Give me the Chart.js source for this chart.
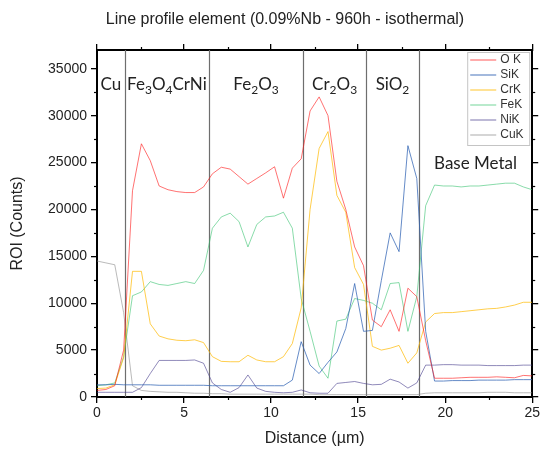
<!DOCTYPE html>
<html>
<head>
<meta charset="utf-8">
<script src="https://cdn.jsdelivr.net/npm/chart.js@4.4.1/dist/chart.umd.min.js"></script>
<style>
  html, body { margin: 0; padding: 0; background: #fff; }
  #wrap { width: 542px; height: 454px; }
</style>
</head>
<body>
<div id="wrap"><canvas id="profileChart" width="542" height="454"></canvas></div>
<script>
// line scan positions (um)
const distance = [0, 0.51, 1.02, 1.53, 2.04, 2.55, 3.06, 3.57, 4.08, 4.59,
  5.10, 5.61, 6.12, 6.63, 7.14, 7.65, 8.16, 8.67, 9.18, 9.69,
  10.20, 10.71, 11.22, 11.73, 12.24, 12.76, 13.27, 13.78, 14.29, 14.80,
  15.31, 15.82, 16.33, 16.84, 17.35, 17.86, 18.37, 18.88, 19.39, 19.90,
  20.41, 20.92, 21.43, 21.94, 22.45, 22.96, 23.47, 23.98, 24.49, 25.00];

// counts per element
const oK = [700, 800, 1200, 5000, 22000, 27000, 25200, 22500, 22100, 21900,
  21800, 21800, 22400, 23800, 24500, 24300, 23500, 22700, 23300, 23900,
  24550, 21200, 24400, 25400, 30500, 32000, 30000, 23000, 20000, 16000,
  14000, 8200, 7500, 9300, 7000, 11600, 10700, 6000, 2000, 2000,
  2000, 2050, 2100, 2100, 2100, 2150, 2100, 2050, 2300, 2250];
const siK = [1300, 1300, 1350, 1300, 1300, 1300, 1300, 1250, 1250, 1250,
  1250, 1250, 1250, 1200, 1200, 1200, 1200, 1200, 1200, 1200,
  1200, 1200, 1800, 5900, 3400, 2500, 3700, 4800, 7300, 12100,
  7000, 7100, 12400, 17500, 15500, 26800, 23300, 7000, 1700, 1700,
  1750, 1750, 1750, 1800, 1800, 1800, 1800, 1850, 1850, 1850];
const crK = [900, 950, 1300, 4200, 13400, 13400, 7800, 6500, 6200, 6050,
  6000, 6100, 5800, 4300, 3800, 3760, 3760, 4450, 3950, 3760,
  3760, 4300, 5700, 9500, 20000, 26500, 28300, 21500, 19700, 13800,
  12000, 5400, 5000, 5200, 5500, 3600, 4700, 8000, 8900, 9000,
  9000, 9100, 9200, 9300, 9400, 9450, 9600, 9800, 10100, 10100];
const feK = [1200, 1300, 1500, 4300, 10800, 11200, 12300, 12000, 11900, 12100,
  12300, 12100, 13500, 18000, 19200, 19600, 18700, 16000, 18400, 19200,
  19300, 19700, 18000, 10500, 7000, 3300, 2000, 8100, 8300, 10500,
  10300, 10000, 9300, 12100, 12200, 7000, 10700, 20400, 22600, 22500,
  22500, 22400, 22500, 22500, 22600, 22700, 22800, 22800, 22400, 22100];
const niK = [500, 500, 500, 500, 500, 1000, 2500, 3900, 3900, 3900,
  3900, 3950, 3600, 1500, 800, 500, 1000, 2350, 950, 600,
  500, 450, 500, 750, 450, 400, 400, 1450, 1550, 1650,
  1450, 1300, 1350, 1900, 1600, 950, 1500, 3400, 3400, 3450,
  3450, 3400, 3400, 3400, 3350, 3350, 3350, 3350, 3400, 3400];
const cuK = [14500, 14300, 14100, 9000, 1200, 700, 600, 550, 500, 500,
  450, 400, 400, 350, 350, 300, 300, 300, 300, 300,
  300, 300, 300, 300, 300, 250, 250, 250, 250, 250,
  250, 250, 250, 250, 250, 250, 250, 400, 450, 450,
  450, 450, 450, 450, 500, 500, 500, 450, 450, 450];

// axis tick labels
const xTicks = [0, 5, 10, 15, 20, 25];
const yTicks = [0, 5000, 10000, 15000, 20000, 25000, 30000, 35000];

// phase boundaries (um) and phase names, "_n" = subscript
const regionBounds = [1.6, 6.43, 11.84, 15.46, 18.49];
const regionLabels = ['Cu', 'Fe_3O_4CrNi', 'Fe_2O_3', 'Cr_2O_3', 'SiO_2', 'Base Metal'];

const chartTitle = 'Line profile element (0.09%Nb - 960h - isothermal)';

const axisFont = { family: 'Liberation Sans, Arial, sans-serif', size: 14 };
const titleFont = { family: 'Liberation Sans, Arial, sans-serif', size: 16 };

function toPoints(values) {
    return values.map((v, i) => ({ x: distance[i], y: v }));
}

function makeSet(label, values, color) {
    return {
        label: label,
        data: toPoints(values),
        borderColor: color,
        backgroundColor: color,
        borderWidth: 1,
        pointRadius: 0,
        tension: 0,
        fill: false
    };
}

// draws "Fe_3O_4" style text centred on cx
function drawChem(ctx, text, cx, y) {
    const parts = [];
    for (let i = 0; i < text.length; i++) {
        if (text[i] === '_') {
            parts.push({ t: text[i + 1], sub: true });
            i++;
        } else {
            const last = parts[parts.length - 1];
            if (last && !last.sub) last.t += text[i];
            else parts.push({ t: text[i], sub: false });
        }
    }
    const big = '17px Lato, "Open Sans", sans-serif';
    const small = '12px Lato, "Open Sans", sans-serif';
    let total = 0;
    parts.forEach(p => {
        ctx.font = p.sub ? small : big;
        p.w = ctx.measureText(p.t).width;
        total += p.w;
    });
    let xPos = cx - total / 2;
    ctx.textAlign = 'left';
    ctx.textBaseline = 'alphabetic';
    parts.forEach(p => {
        ctx.font = p.sub ? small : big;
        ctx.fillText(p.t, xPos, p.sub ? y + 4 : y);
        xPos += p.w;
    });
}

const regionPlugin = {
    id: 'regions',
    beforeDatasetsDraw(chart) {
        const { ctx, chartArea, scales: { x } } = chart;
        ctx.save();
        ctx.strokeStyle = '#6e6e6e';
        ctx.lineWidth = 1.2;
        regionBounds.forEach(b => {
            const px = Math.round(x.getPixelForValue(b)) + 0.5;
            ctx.beginPath();
            ctx.moveTo(px, chartArea.top);
            ctx.lineTo(px, chartArea.bottom);
            ctx.stroke();
        });
        ctx.restore();
    },
    afterDatasetsDraw(chart) {
        const { ctx, chartArea, scales: { x } } = chart;
        const edges = [x.min, ...regionBounds, x.max];
        ctx.save();
        ctx.fillStyle = '#222';
        regionLabels.forEach((lab, i) => {
            const cx = x.getPixelForValue((edges[i] + edges[i + 1]) / 2);
            const y = i === regionLabels.length - 1 ? chartArea.top + 119 : chartArea.top + 40;
            drawChem(ctx, lab, cx, y);
        });
        ctx.restore();
    }
};

const minorTickPlugin = {
    id: 'minorTicks',
    afterDraw(chart) {
        const { ctx, chartArea: a, scales: { x, y } } = chart;
        ctx.save();
        ctx.strokeStyle = '#000';
        ctx.lineWidth = 1.2;
        const seg = (x1, y1, x2, y2) => {
            ctx.beginPath();
            ctx.moveTo(x1, y1);
            ctx.lineTo(x2, y2);
            ctx.stroke();
        };
        for (let v = 2.5; v < x.max; v += 5) {
            const p = Math.round(x.getPixelForValue(v)) + 0.5;
            seg(p, a.bottom, p, a.bottom + 3);
            seg(p, a.top, p, a.top - 3);
        }
        for (let v = 2500; v < y.max; v += 5000) {
            const p = Math.round(y.getPixelForValue(v)) + 0.5;
            seg(a.left - 3, p, a.left, p);
            seg(a.right, p, a.right + 3, p);
        }
        ctx.restore();
    }
};

const boxLegendPlugin = {
    id: 'boxLegend',
    afterDraw(chart) {
        const { ctx, chartArea: a } = chart;
        const left = a.right - 65, top = a.top + 2, w = 62, h = 93;
        ctx.save();
        ctx.fillStyle = '#fff';
        ctx.fillRect(left, top, w, h);
        ctx.strokeStyle = '#c4c4c4';
        ctx.lineWidth = 1;
        ctx.strokeRect(left + 0.5, top + 0.5, w, h);
        ctx.font = '12px "Liberation Sans", Arial, sans-serif';
        ctx.textBaseline = 'middle';
        ctx.textAlign = 'left';
        chart.data.datasets.forEach((ds, i) => {
            const yy = top + 8 + i * 15;
            ctx.strokeStyle = ds.borderColor;
            ctx.lineWidth = 1.2;
            ctx.beginPath();
            ctx.moveTo(left + 3, yy);
            ctx.lineTo(left + 29, yy);
            ctx.stroke();
            ctx.fillStyle = '#333';
            ctx.fillText(ds.label, left + 33, yy);
        });
        ctx.restore();
    }
};

const titlePlugin = {
    id: 'plainTitle',
    afterDraw(chart) {
        const ctx = chart.ctx;
        ctx.save();
        ctx.font = '16px "Liberation Sans", Arial, sans-serif';
        ctx.fillStyle = '#222';
        ctx.textAlign = 'center';
        ctx.textBaseline = 'middle';
        ctx.fillText(chartTitle, 285, 20);
        ctx.restore();
    }
};

const gridOpts = { drawOnChartArea: false, tickLength: 6, color: '#000', lineWidth: 1.3 };
const borderOpts = { color: '#000', width: 2 };
const setTicks = list => scale => { scale.ticks = list.map(v => ({ value: v })); };

new Chart(document.getElementById('profileChart').getContext('2d'), {
    type: 'line',
    data: {
        datasets: [
            makeSet('O K', oK, 'rgba(255, 20, 20, 0.6)'),
            makeSet('SiK', siK, 'rgba(50, 100, 180, 0.75)'),
            makeSet('CrK', crK, 'rgba(255, 185, 0, 0.7)'),
            makeSet('FeK', feK, 'rgba(40, 190, 100, 0.55)'),
            makeSet('NiK', niK, 'rgba(70, 60, 140, 0.6)'),
            makeSet('CuK', cuK, 'rgba(140, 140, 140, 0.6)')
        ]
    },
    options: {
        responsive: false,
        animation: false,
        devicePixelRatio: 1,
        layout: { padding: 0 },
        plugins: {
            legend: { display: false },
            tooltip: { enabled: false },
            title: { display: false }
        },
        scales: {
            x: {
                type: 'linear',
                position: 'bottom',
                min: 0,
                max: 25,
                afterBuildTicks: setTicks(xTicks),
                ticks: {
                    font: axisFont,
                    color: '#222',
                    padding: 2,
                    maxRotation: 0,
                    callback: v => String(v)
                },
                grid: gridOpts,
                border: borderOpts,
                title: {
                    display: true,
                    text: 'Distance (\u00b5m)',
                    font: titleFont,
                    color: '#222',
                    padding: { top: 0, bottom: 6 }
                },
                afterFit: s => { s.height = 57; }
            },
            x2: {
                type: 'linear',
                position: 'top',
                min: 0,
                max: 25,
                afterBuildTicks: setTicks(xTicks),
                ticks: { display: false },
                grid: gridOpts,
                border: borderOpts,
                afterFit: s => { s.height = 50; }
            },
            y: {
                type: 'linear',
                position: 'left',
                min: 0,
                max: 37000,
                afterBuildTicks: setTicks(yTicks),
                ticks: {
                    font: axisFont,
                    color: '#222',
                    padding: 4,
                    callback: v => String(v)
                },
                grid: gridOpts,
                border: borderOpts,
                title: {
                    display: true,
                    text: 'ROI (Counts)',
                    font: titleFont,
                    color: '#222',
                    padding: { top: 8, bottom: 0 }
                },
                afterFit: s => { s.width = 97; }
            },
            y2: {
                type: 'linear',
                position: 'right',
                min: 0,
                max: 37000,
                afterBuildTicks: setTicks(yTicks),
                ticks: { display: false },
                grid: gridOpts,
                border: borderOpts,
                afterFit: s => { s.width = 7; }
            }
        }
    },
    plugins: [regionPlugin, minorTickPlugin, boxLegendPlugin, titlePlugin]
});
</script>
</body>
</html>
